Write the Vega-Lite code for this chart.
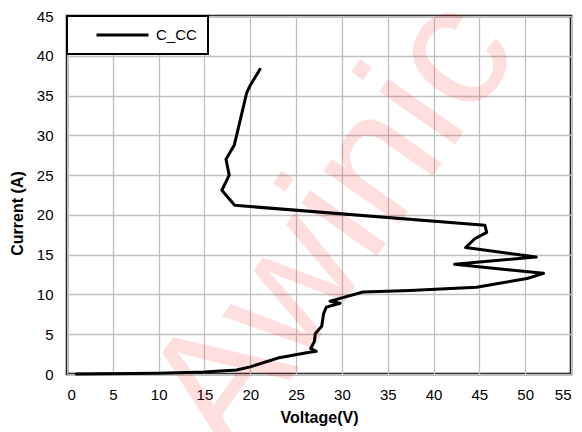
{
  "$schema": "https://vega.github.io/schema/vega-lite/v6.json",
  "autosize": "none",
  "width": 504,
  "height": 358,
  "padding": {"left": 67, "top": 16, "right": 11, "bottom": 58},
  "background": "white",
  "config": {
    "view": {"stroke": "black", "strokeWidth": 2.5},
    "font": "Liberation Sans",
    "axis": {
      "domain": false,
      "ticks": false,
      "tickSize": 0,
      "grid": true,
      "gridColor": "#c0c0c0",
      "gridWidth": 1.3,
      "labelOverlap": false,
      "labelFont": "Liberation Sans",
      "labelFontSize": 15,
      "labelColor": "black",
      "titleFont": "Liberation Sans",
      "titleFontSize": 16,
      "titleFontWeight": "bold",
      "titleColor": "black"
    },
    "legend": {
      "strokeColor": "black",
      "strokeWidth": 2,
      "fillColor": "white",
      "padding": 11,
      "labelFont": "Liberation Sans",
      "labelFontSize": 15,
      "labelColor": "black"
    }
  },
  "datasets": {
    "curve": [
      {"step": 1, "series": "C_CC", "voltage": 1.0, "current": 0.0},
      {"step": 2, "series": "C_CC", "voltage": 10.0, "current": 0.1},
      {"step": 3, "series": "C_CC", "voltage": 15.0, "current": 0.25},
      {"step": 4, "series": "C_CC", "voltage": 18.5, "current": 0.5},
      {"step": 5, "series": "C_CC", "voltage": 20.0, "current": 0.9},
      {"step": 6, "series": "C_CC", "voltage": 23.0, "current": 2.0},
      {"step": 7, "series": "C_CC", "voltage": 26.3, "current": 2.7},
      {"step": 8, "series": "C_CC", "voltage": 27.2, "current": 2.85},
      {"step": 9, "series": "C_CC", "voltage": 26.6, "current": 3.2},
      {"step": 10, "series": "C_CC", "voltage": 27.0, "current": 4.1},
      {"step": 11, "series": "C_CC", "voltage": 27.1, "current": 5.1},
      {"step": 12, "series": "C_CC", "voltage": 27.8, "current": 6.0},
      {"step": 13, "series": "C_CC", "voltage": 28.0, "current": 7.6},
      {"step": 14, "series": "C_CC", "voltage": 28.3, "current": 8.4},
      {"step": 15, "series": "C_CC", "voltage": 29.8, "current": 8.9},
      {"step": 16, "series": "C_CC", "voltage": 28.7, "current": 9.15},
      {"step": 17, "series": "C_CC", "voltage": 29.8, "current": 9.5},
      {"step": 18, "series": "C_CC", "voltage": 32.3, "current": 10.3},
      {"step": 19, "series": "C_CC", "voltage": 37.4, "current": 10.5},
      {"step": 20, "series": "C_CC", "voltage": 44.7, "current": 10.9},
      {"step": 21, "series": "C_CC", "voltage": 47.2, "current": 11.4},
      {"step": 22, "series": "C_CC", "voltage": 50.2, "current": 12.0},
      {"step": 23, "series": "C_CC", "voltage": 52.0, "current": 12.65},
      {"step": 24, "series": "C_CC", "voltage": 42.3, "current": 13.8},
      {"step": 25, "series": "C_CC", "voltage": 51.2, "current": 14.7},
      {"step": 26, "series": "C_CC", "voltage": 43.5, "current": 15.9},
      {"step": 27, "series": "C_CC", "voltage": 44.5, "current": 17.0},
      {"step": 28, "series": "C_CC", "voltage": 45.8, "current": 17.8},
      {"step": 29, "series": "C_CC", "voltage": 45.6, "current": 18.7},
      {"step": 30, "series": "C_CC", "voltage": 18.3, "current": 21.2},
      {"step": 31, "series": "C_CC", "voltage": 16.9, "current": 23.1},
      {"step": 32, "series": "C_CC", "voltage": 17.7, "current": 25.0},
      {"step": 33, "series": "C_CC", "voltage": 17.35, "current": 27.0},
      {"step": 34, "series": "C_CC", "voltage": 18.26, "current": 28.8},
      {"step": 35, "series": "C_CC", "voltage": 19.6, "current": 35.3},
      {"step": 36, "series": "C_CC", "voltage": 20.0, "current": 36.3},
      {"step": 37, "series": "C_CC", "voltage": 21.06, "current": 38.3}
    ],
    "watermark": [
      {"text": "Awinic"}
    ]
  },
  "layer": [
    {
      "data": {"name": "watermark"},
      "mark": {
        "type": "text",
        "font": "Liberation Sans",
        "fontSize": 175,
        "angle": -55,
        "align": "center",
        "baseline": "alphabetic",
        "fill": "#ff0000",
        "fillOpacity": 0.13
      },
      "encoding": {
        "x": {
          "datum": 33.8,
          "type": "quantitative",
          "scale": {"domain": [0, 55], "nice": false, "zero": false},
          "axis": {
            "values": [0, 5, 10, 15, 20, 25, 30, 35, 40, 45, 50, 55],
            "labelPadding": 13,
            "title": "Voltage(V)",
            "titleBaseline": "alphabetic",
            "titleY": 48
          }
        },
        "y": {
          "datum": 14.8,
          "type": "quantitative",
          "scale": {"domain": [0, 45], "nice": false},
          "axis": {
            "values": [0, 5, 10, 15, 20, 25, 30, 35, 40, 45],
            "labelPadding": 14,
            "title": "Current (A)",
            "titleAngle": -90,
            "titleBaseline": "alphabetic",
            "titleAlign": "center",
            "titleX": -45,
            "titleY": 197
          }
        },
        "text": {"field": "text"}
      }
    },
    {
      "data": {"name": "curve"},
      "mark": {"type": "line", "strokeWidth": 3, "strokeJoin": "round", "strokeCap": "round"},
      "encoding": {
        "x": {
          "field": "voltage",
          "type": "quantitative",
          "scale": {"domain": [0, 55], "nice": false, "zero": false},
          "axis": {
            "values": [0, 5, 10, 15, 20, 25, 30, 35, 40, 45, 50, 55],
            "labelPadding": 13,
            "title": "Voltage(V)",
            "titleBaseline": "alphabetic",
            "titleY": 48
          }
        },
        "y": {
          "field": "current",
          "type": "quantitative",
          "scale": {"domain": [0, 45], "nice": false},
          "axis": {
            "values": [0, 5, 10, 15, 20, 25, 30, 35, 40, 45],
            "labelPadding": 14,
            "title": "Current (A)",
            "titleAngle": -90,
            "titleBaseline": "alphabetic",
            "titleAlign": "center",
            "titleX": -45,
            "titleY": 197
          }
        },
        "order": {"field": "step"},
        "color": {
          "field": "series",
          "type": "nominal",
          "scale": {"range": ["black"]},
          "legend": {
            "title": null,
            "orient": "top-left",
            "offset": 0,
            "symbolType": "stroke",
            "symbolSize": 2704,
            "symbolStrokeWidth": 3,
            "symbolOffset": 17,
            "labelOffset": 6,
            "clipHeight": 16,
            "labelExpr": "datum.label + '\u00a0\u00a0'"
          }
        }
      }
    }
  ]
}
